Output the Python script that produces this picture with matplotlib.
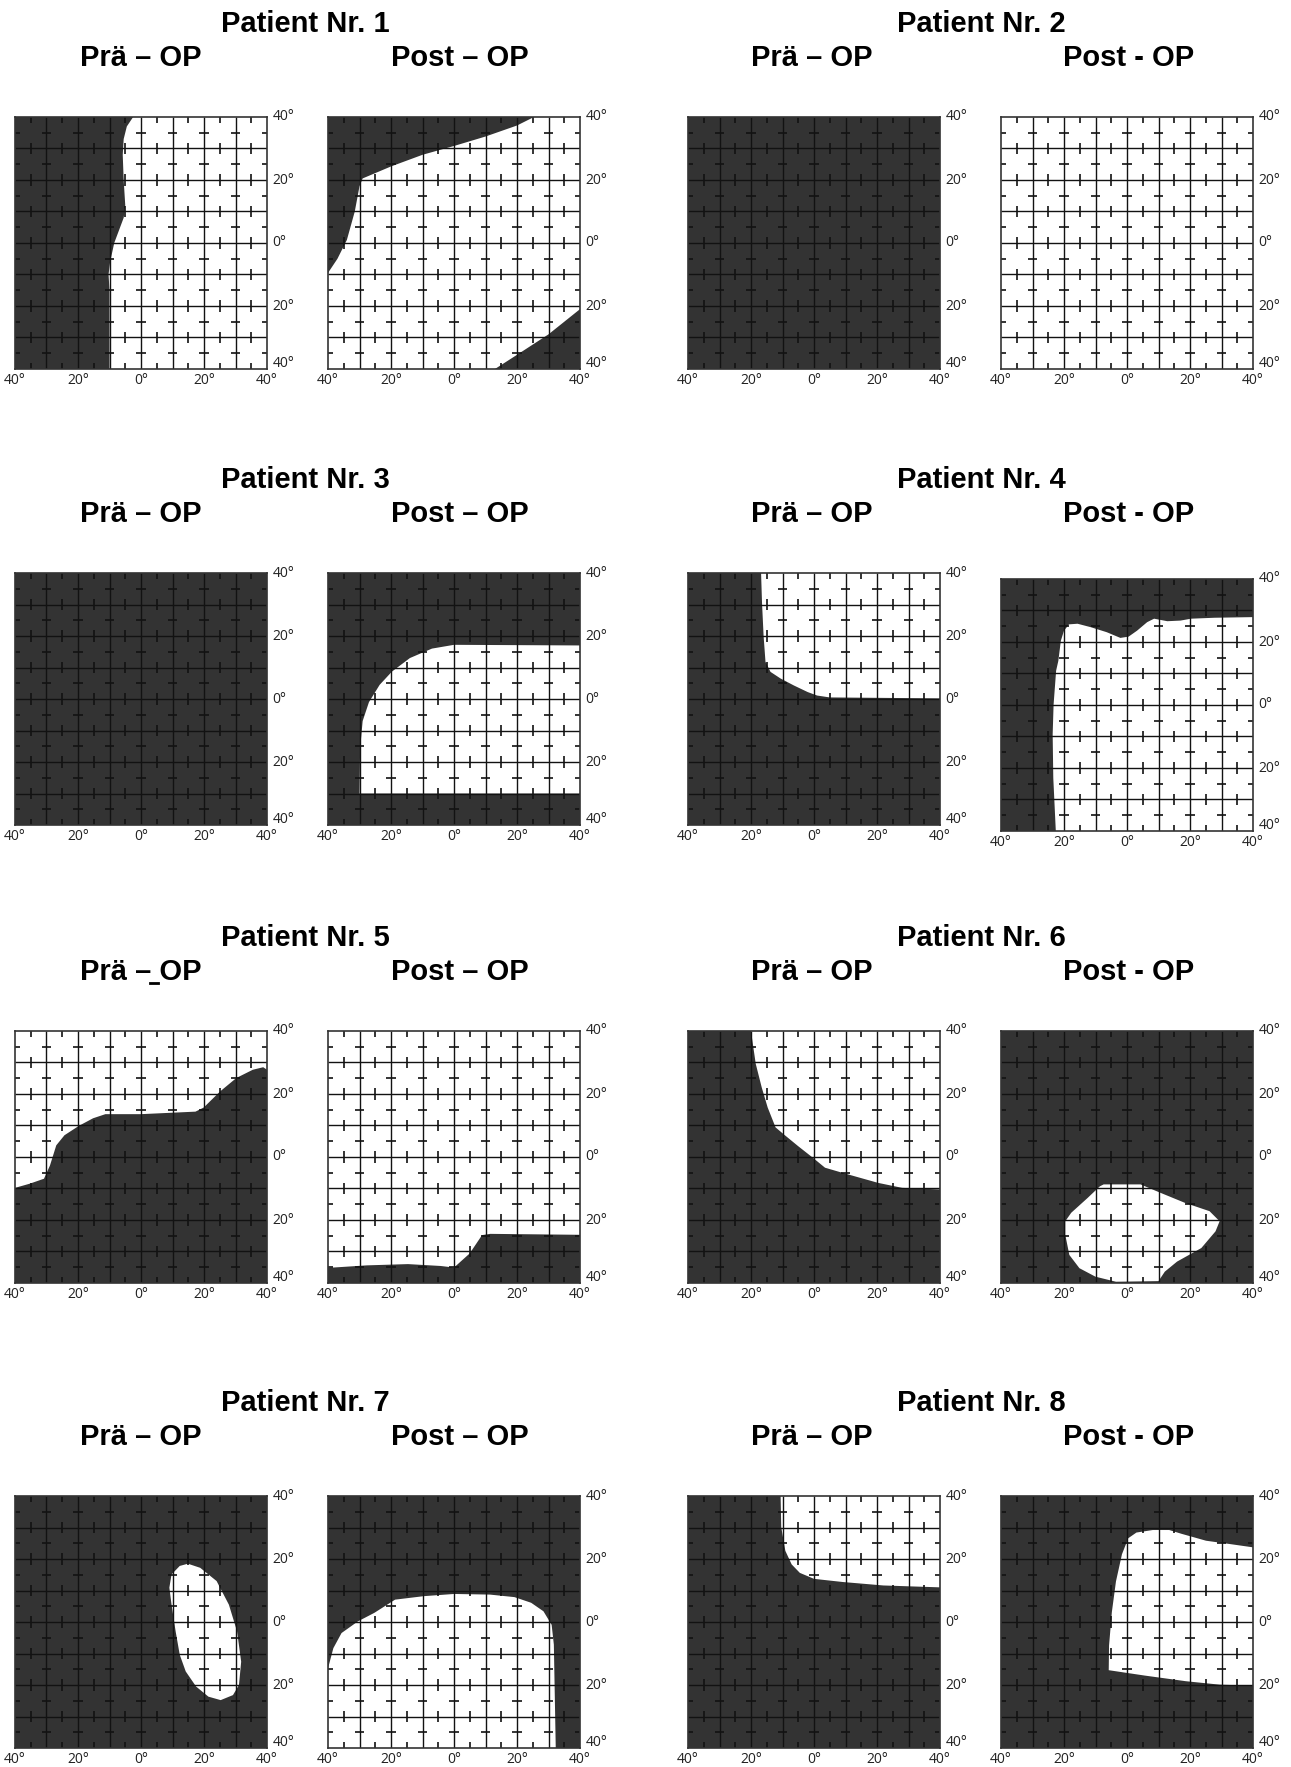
import numpy as np
import matplotlib.pyplot as plt
from matplotlib.patches import Polygon
from matplotlib.lines import Line2D

# ---- labels ----
patients = ['Patient Nr. 1', 'Patient Nr. 2', 'Patient Nr. 3', 'Patient Nr. 4',
            'Patient Nr. 5', 'Patient Nr. 6', 'Patient Nr. 7', 'Patient Nr. 8']
pre_labels = ['Prä – OP'] * 8
post_labels = ['Post – OP', 'Post - OP', 'Post – OP', 'Post - OP',
               'Post – OP', 'Post - OP', 'Post – OP', 'Post - OP']

axis_ticks = [-40, -20, 0, 20, 40]
tick_labels = ['40°', '20°', '0°', '20°', '40°']

# ---- visual fields (degrees) ----
# each field: background ('dark' or 'light') + polygons in the other colour
p1_pre_base = 'light'
p1_pre_shapes = [[(-40, 40), (-2.5, 40), (-4.5, 37), (-5.5, 33), (-5.8, 28), (-5.5, 20),
                  (-5, 12), (-5.5, 8), (-7, 4), (-8.5, 0), (-9.8, -6), (-10.3, -10),
                  (-10, -15), (-10, -40), (-40, -40)]]

p1_post_base = 'light'
p1_post_shapes = [[(-40, 40), (25.4, 40), (20, 37.3), (10, 33.8), (0, 30.8), (-10, 28),
                   (-20, 24.3), (-29, 20.5), (-30, 18), (-31.5, 10), (-34, 1), (-37, -5),
                   (-40, -9.5)],
                  [(13, -40), (20, -35.5), (30, -29), (40, -21), (40, -40)]]

p2_pre_base = 'dark'
p2_pre_shapes = []

p2_post_base = 'light'
p2_post_shapes = []

p3_pre_base = 'dark'
p3_pre_shapes = []

p3_post_base = 'dark'
p3_post_shapes = [[(40, 17), (0, 17.2), (-7, 16), (-14, 13), (-19.7, 8.7), (-23.6, 4.5),
                   (-27, -1), (-29, -7), (-29.8, -15.7), (-30, -30), (40, -30)]]

p4_pre_base = 'dark'
p4_pre_shapes = [[(-16.8, 40), (40, 40), (40, 0.2), (5, 0.5), (1, 1.1), (-2, 2.2),
                  (-6.4, 4.3), (-10.6, 6.5), (-13.8, 8.6), (-15.4, 11.8), (-16, 20),
                  (-16.5, 30.5)]]

p4_post_base = 'dark'
p4_post_shapes = [[(-22.6, -40), (40, -40), (40, 27.9), (27.8, 27.7), (20.3, 27.4),
                   (17, 26.8), (12.8, 26.6), (8.6, 27.4), (6.4, 26.3), (3.2, 23.6),
                   (0.5, 21.7), (-2.1, 21.3), (-6.4, 23.1), (-11.5, 24.7), (-15.7, 25.8),
                   (-18.4, 25.6), (-20, 23.6), (-21, 20.4), (-21.8, 14), (-22.5, 10.9),
                   (-23.3, 0.2), (-23.6, -9.4), (-23.4, -23.2)]]

p5_pre_base = 'light'
p5_pre_shapes = [[(-40, -40), (-40, -9.8), (-35.4, -8.5), (-30.8, -6.9), (-28.9, -2.7),
                  (-26.9, 3.7), (-24.3, 6.9), (-19.7, 9.9), (-15.2, 12.3), (-11.3, 13.6),
                  (0, 13.6), (17.3, 14.4), (19.9, 15.7), (25.1, 20.8), (30.3, 25.1),
                  (35.5, 27.7), (38.8, 28.5), (40, 27.7), (40, -40)]]

p5_post_base = 'light'
p5_post_shapes = [[(-40, -40), (-40, -35.2), (-27.6, -34.4), (-14.6, -34), (-4.2, -34.6),
                   (0, -35.1), (5, -30.6), (8.9, -24.8), (11.5, -24.4), (40, -24.7),
                   (40, -40)]]

p6_pre_base = 'dark'
p6_pre_shapes = [[(-20, 40), (40, 40), (40, -10.3), (28, -9.8), (20.3, -8.2), (10, -5.3),
                  (3.5, -3.4), (-0.4, -0.2), (-5.1, 3.5), (-9.6, 7.2), (-12.2, 9.4),
                  (-14.7, 15.7), (-16.6, 22.1), (-18.5, 29.6)]]

p6_post_base = 'dark'
p6_post_shapes = [[(-7.4, -8.7), (4.3, -8.7), (10.7, -11.4), (18.5, -14.6), (26.2, -17.2),
                   (29.4, -20.4), (28.1, -23.6), (23.6, -28.9), (15.9, -33.2), (12, -36.4),
                   (10, -39.4), (-3.5, -39.6), (-10, -38), (-15.1, -35.3), (-18.3, -31.1),
                   (-19.6, -24.7), (-19.6, -20.4), (-17.7, -17.7), (-12.5, -13), (-8.6, -9.3)]]

p7_pre_base = 'dark'
p7_pre_shapes = [[(14.9, 18.5), (18.8, 17.2), (24, 13), (27.9, 5.5), (30.5, -3), (31.8, -12.6),
                  (31.1, -20), (29.2, -23.2), (25.3, -24.8), (21.4, -23.7), (17.5, -20.5),
                  (14.2, -15.7), (12.3, -10.4), (11, -3), (9.7, 5.5), (9, 10.9), (9.7, 15.1),
                  (12.3, 17.8)]]

p7_post_base = 'dark'
p7_post_shapes = [[(-40, -40), (32.3, -40), (31.7, -7.2), (31, -0.9), (28.4, 3.4), (24.5, 6.1),
                   (19.2, 7.9), (11.4, 8.7), (0, 8.9), (-9.6, 8.2), (-18.7, 7.1), (-25.3, 2.9),
                   (-30.5, 0.2), (-35.7, -3.5), (-38.3, -8.3), (-40, -14.7)]]

p8_pre_base = 'dark'
p8_pre_shapes = [[(-10.6, 40), (40, 40), (40, 11), (22, 11.6), (9.1, 12.7), (0, 13.7),
                  (-4.5, 15.6), (-7.1, 18.3), (-9.1, 22.6), (-10.4, 30.1)]]

p8_post_base = 'dark'
p8_post_shapes = [[(3, 28.4), (8.2, 29.2), (13.4, 29.2), (17.3, 28), (25.1, 25.8), (31.6, 24.9),
                   (40, 23.7), (40, -20.2), (29.5, -19.9), (18.7, -18.8), (5.6, -17),
                   (-5.8, -15.3), (-5.7, -7.5), (-4.8, 3.2), (-3.5, 12.9), (-1.6, 21.5),
                   (0.4, 26.6)]]

fields = [
    [(p1_pre_base, p1_pre_shapes), (p1_post_base, p1_post_shapes)],
    [(p2_pre_base, p2_pre_shapes), (p2_post_base, p2_post_shapes)],
    [(p3_pre_base, p3_pre_shapes), (p3_post_base, p3_post_shapes)],
    [(p4_pre_base, p4_pre_shapes), (p4_post_base, p4_post_shapes)],
    [(p5_pre_base, p5_pre_shapes), (p5_post_base, p5_post_shapes)],
    [(p6_pre_base, p6_pre_shapes), (p6_post_base, p6_post_shapes)],
    [(p7_pre_base, p7_pre_shapes), (p7_post_base, p7_post_shapes)],
    [(p8_pre_base, p8_pre_shapes), (p8_post_base, p8_post_shapes)],
]

DARK = '#333333'
LINE = '#121212'
W, H = 1291, 1767

# layout in pixels
col_left = [15, 328, 688, 1001]
row_top = [117, 573, 1031, 1496]
box = 252
patient_x = [305, 981]
pre_x = [141, 812]
post_x = [460, 1129]


def draw_field(ax, base, shapes):
    other = 'white' if base == 'dark' else DARK
    ax.set_facecolor(DARK if base == 'dark' else 'white')
    for pts in shapes:
        ax.add_patch(Polygon(pts, closed=True, fc=other, ec='none', zorder=1))

    grid = np.arange(-30, 31, 10)
    ax.vlines(grid, -40, 40, color=LINE, lw=1.0, zorder=2)
    ax.hlines(grid, -40, 40, color=LINE, lw=1.0, zorder=2)

    # short marks: vertical ticks at cell centres on the horizontal lines
    xc, yc = np.meshgrid(np.arange(-35, 36, 10), np.arange(-40, 41, 10))
    ax.vlines(xc.ravel(), yc.ravel() - 1.9, yc.ravel() + 1.9, color=LINE, lw=1.2, zorder=2)
    # horizontal dashes half-way up the vertical lines
    xc, yc = np.meshgrid(np.arange(-40, 41, 10), np.arange(-35, 36, 10))
    ax.hlines(yc.ravel(), xc.ravel() - 1.5, xc.ravel() + 1.5, color=LINE, lw=1.2, zorder=2)

    ax.set_xlim(-40, 40)
    ax.set_ylim(-40, 40)
    ax.set_xticks([])
    ax.set_yticks([])
    for sp in ax.spines.values():
        sp.set_color('#333333')
        sp.set_linewidth(1.2)

    lab_font = dict(family='Open Sans', size=10, color='#222222')
    for v, lab in zip(axis_ticks, tick_labels):
        ax.annotate(lab, xy=(v, 0), xycoords=('data', 'axes fraction'),
                    xytext=(0, -3), textcoords='offset points',
                    ha='center', va='top', **lab_font)
        dy = 4 if v == -40 else 0
        ax.annotate(lab, xy=(1, v), xycoords=('axes fraction', 'data'),
                    xytext=(4, dy), textcoords='offset points',
                    ha='left', va='center', **lab_font)


fig = plt.figure(figsize=(W / 100, H / 100), dpi=100)

title_font = dict(family='Liberation Sans', weight='bold', size=21,
                  ha='center', va='center')

for i in range(8):
    row = i // 2
    side = i % 2
    top = row_top[row]
    for j in range(2):
        left = col_left[side * 2 + j]
        t = top + (6 if i == 3 and j == 1 else 0)
        ax = fig.add_axes([left / W, 1 - (t + box) / H, box / W, box / H])
        base, shapes = fields[i][j]
        draw_field(ax, base, shapes)

    fig.text(patient_x[side] / W, 1 - (top - 93) / H, patients[i], **title_font)
    fig.text(pre_x[side] / W, 1 - (top - 59) / H, pre_labels[i], **title_font)
    fig.text(post_x[side] / W, 1 - (top - 59) / H, post_labels[i], **title_font)

# small underline artefact in "Prä – OP" of patient 5
fig.add_artist(Line2D([150 / W, 158 / W], [1 - 983 / H, 1 - 983 / H],
                      color='black', lw=2, transform=fig.transFigure))

fig.savefig('out.png', dpi=100)
